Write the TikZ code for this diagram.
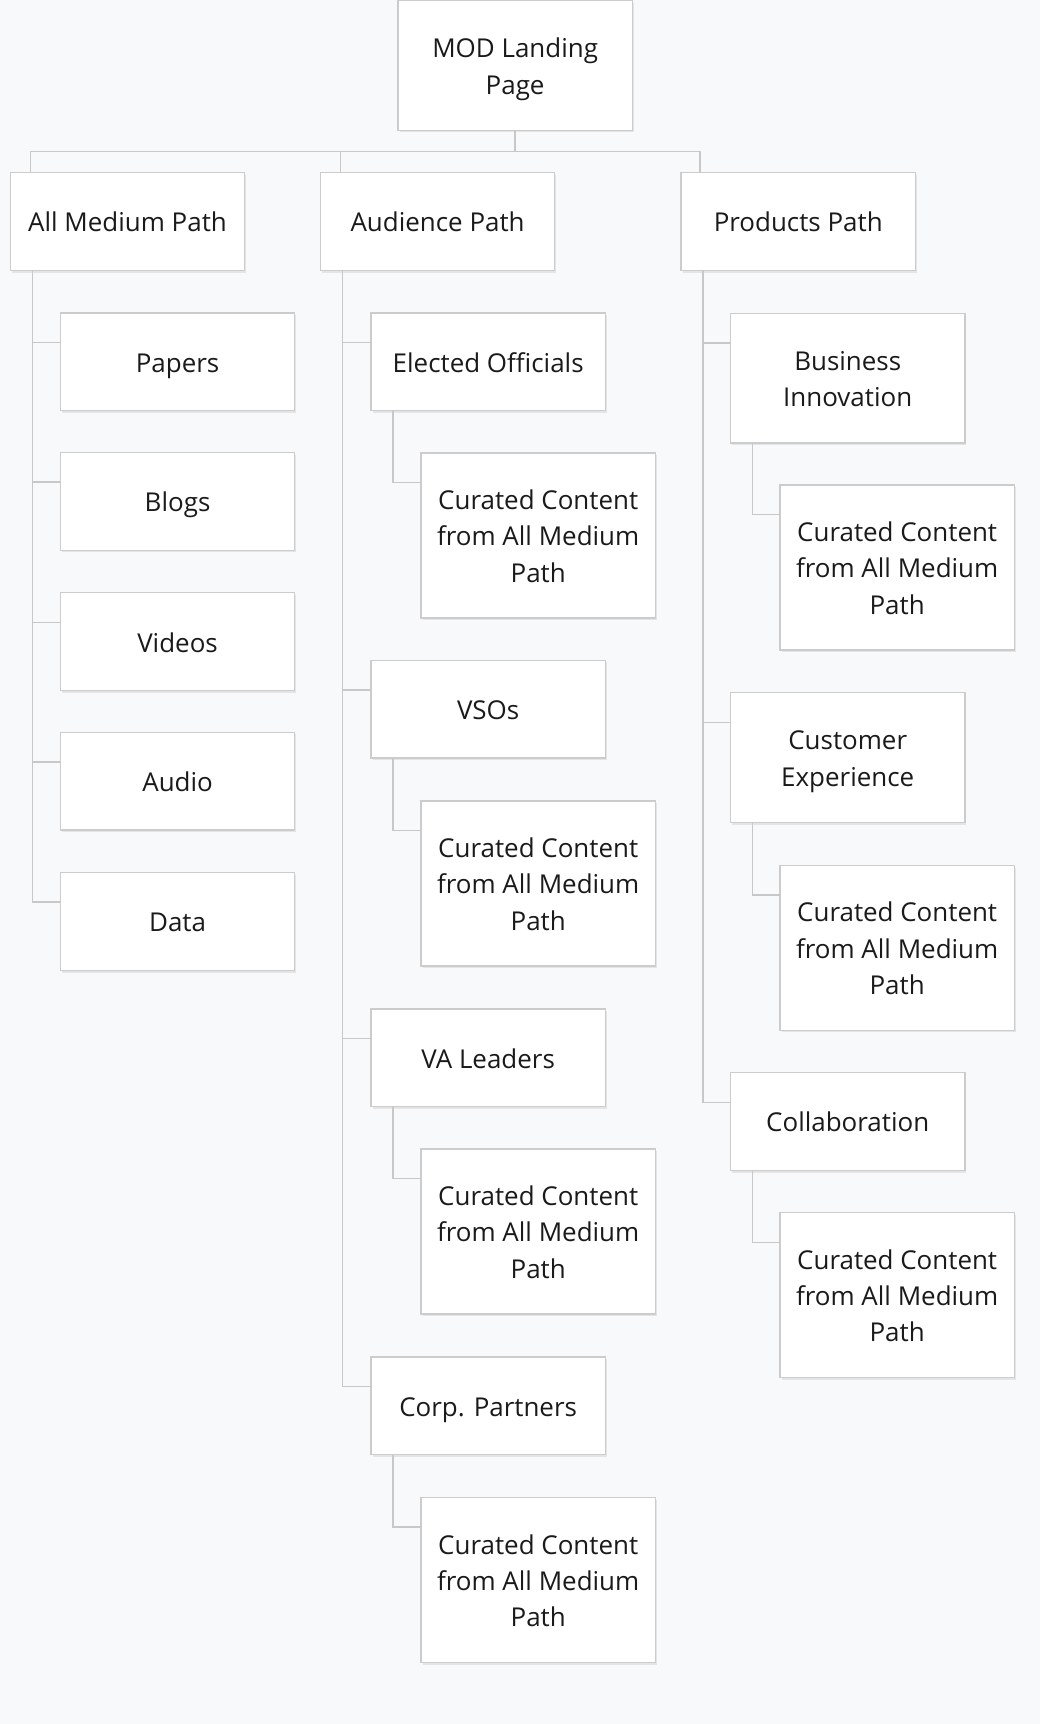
\documentclass[tikz,border=0pt]{standalone}
\usepackage{fontspec}
\setmainfont{Open Sans}
\usetikzlibrary{shadows}
\definecolor{bgc}{HTML}{F8F9FA}
\definecolor{bordc}{HTML}{CCCCCC}
\definecolor{linec}{HTML}{C8C8C8}
\definecolor{txtc}{HTML}{1A1A1A}
\tikzset{
  box/.style={draw=bordc, line width=1.3pt, fill=white, inner sep=0pt, outer sep=0pt,
    align=center, text=txtc, font=\fontsize{23.6}{33}\selectfont,
    minimum width=213pt, minimum height=89pt,
    execute at begin node={\rule{0pt}{25pt}},
    execute at end node={\rule[-6pt]{0pt}{6pt}},
    drop shadow={shadow xshift=1.5pt, shadow yshift=-2pt, opacity=0.08, fill=black}},
  tall/.style={minimum height=118pt,
    execute at begin node={\rule{0pt}{60pt}},
    execute at end node={\rule[-8pt]{0pt}{8pt}}},
  cur/.style={minimum height=150pt,
    execute at begin node={\rule{0pt}{95pt}},
    execute at end node={\rule[-10pt]{0pt}{10pt}}},
  conn/.style={draw=linec, line width=1.3pt},
}
\begin{document}
\begin{tikzpicture}[x=1pt, y=-1pt]
\fill[bgc] (0,0) rectangle (946,1568);
\useasboundingbox (0,0) rectangle (946,1568);
% nodes
\node[box, tall] (mod) at (468.5,59.5) {MOD Landing\\Page};
\node[box] (allm) at (116,201.5) {All Medium Path};
\node[box] (aud) at (398,201.5) {Audience Path};
\node[box] (prod) at (726,201.5) {Products Path};
% all medium children
\node[box] (papers) at (161.5,329) {Papers};
\node[box] (blogs) at (161.5,456) {Blogs};
\node[box] (videos) at (161.5,583.5) {Videos};
\node[box] (audio) at (161.5,710.5) {Audio};
\node[box] (data) at (161.5,838) {Data};
% audience children
\node[box] (elected) at (444,329) {Elected Officials};
\node[box, cur] (cur1) at (489.5,487) {Curated Content\\from All Medium\\Path};
\node[box] (vsos) at (444,645) {VSOs};
\node[box, cur] (cur2) at (489.5,803.5) {Curated Content\\from All Medium\\Path};
\node[box] (valead) at (444,962) {VA Leaders};
\node[box, cur] (cur3) at (489.5,1120) {Curated Content\\from All Medium\\Path};
\node[box] (corp) at (444,1278.5) {Corp. Partners};
\node[box, cur] (cur4) at (489.5,1437) {Curated Content\\from All Medium\\Path};
% products children
\node[box, tall] (busi) at (771,344) {Business\\Innovation};
\node[box, cur] (cur5) at (816,516) {Curated Content\\from All Medium\\Path};
\node[box, tall] (cust) at (771,689) {Customer\\Experience};
\node[box, cur] (cur6) at (816,862) {Curated Content\\from All Medium\\Path};
\node[box] (collab) at (771,1020) {Collaboration};
\node[box, cur] (cur7) at (816,1178) {Curated Content\\from All Medium\\Path};
% top connectors
\coordinate (bus) at (469,138);
\draw[conn] (mod.south) -- (mod.south |- bus);
\draw[conn] ([xshift=18pt]allm.north west) -- ++(0,19pt) -| ([xshift=17pt]prod.north west);
\draw[conn] ([xshift=18pt]aud.north west) -- ++(0,19pt);
% all medium
\foreach \c in {papers,blogs,videos,audio,data}
  \draw[conn] ([xshift=20pt]allm.south west) |- ([yshift=-27pt]\c.north west);
% audience
\foreach \c in {elected,vsos,valead,corp}
  \draw[conn] ([xshift=20pt]aud.south west) |- ([yshift=-27pt]\c.north west);
\draw[conn] ([xshift=20pt]elected.south west) |- ([yshift=-27pt]cur1.north west);
\draw[conn] ([xshift=20pt]vsos.south west) |- ([yshift=-27pt]cur2.north west);
\draw[conn] ([xshift=20pt]valead.south west) |- ([yshift=-27pt]cur3.north west);
\draw[conn] ([xshift=20pt]corp.south west) |- ([yshift=-27pt]cur4.north west);
% products
\foreach \c in {busi,cust,collab}
  \draw[conn] ([xshift=20pt]prod.south west) |- ([yshift=-27pt]\c.north west);
\draw[conn] ([xshift=20pt]busi.south west) |- ([yshift=-27pt]cur5.north west);
\draw[conn] ([xshift=20pt]cust.south west) |- ([yshift=-27pt]cur6.north west);
\draw[conn] ([xshift=20pt]collab.south west) |- ([yshift=-27pt]cur7.north west);
\end{tikzpicture}
\end{document}
